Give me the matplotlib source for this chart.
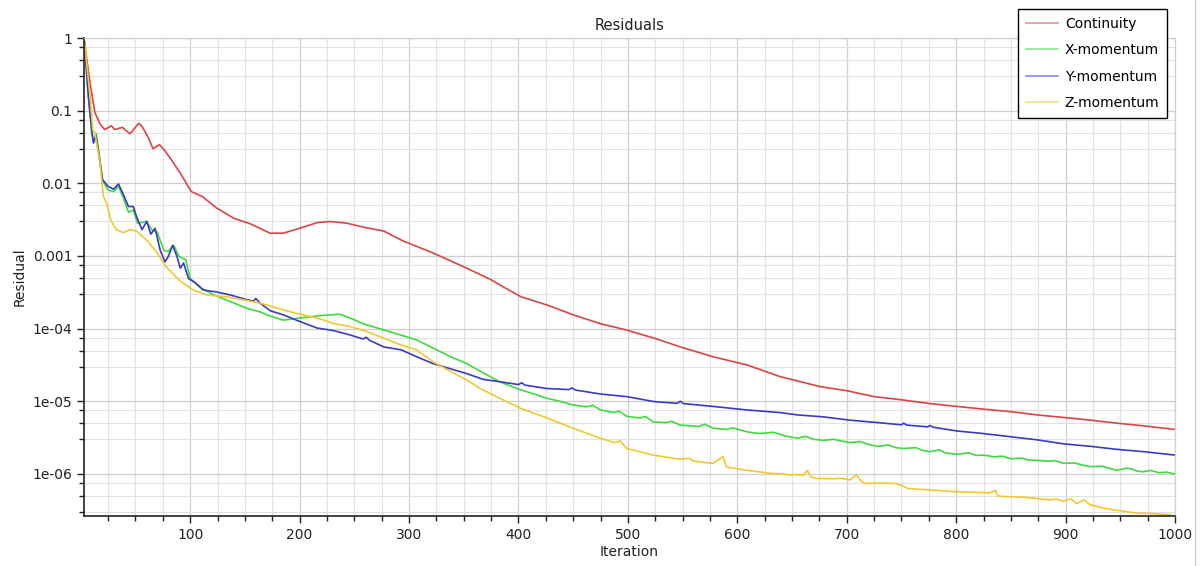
import matplotlib
matplotlib.use('Agg')
import matplotlib.pyplot as plt
from matplotlib.ticker import FixedLocator, FixedFormatter

continuity_it = [3, 6, 9, 13, 18, 22, 28, 31, 38, 45, 53, 56, 62, 66, 72, 77, 82, 91, 101, 111,
                 124, 140, 155, 164, 173, 185, 200, 216, 228, 243, 258, 277, 295, 322, 350, 374,
                 383, 402, 426, 450, 475, 499, 524, 548, 578, 609, 639, 652, 676, 700, 725, 752,
                 776, 801, 825, 850, 874, 898, 923, 947, 971, 1000]
continuity = [1.0, 0.45, 0.215, 0.094, 0.064, 0.055, 0.062, 0.055, 0.059, 0.048, 0.067, 0.061,
              0.042, 0.030, 0.034, 0.028, 0.022, 0.0138, 0.0077, 0.0066, 0.0046, 0.0033, 0.00277,
              0.0024, 0.00206, 0.00206, 0.0024, 0.00288, 0.00298, 0.00283, 0.0025, 0.0022, 0.0016,
              0.0011, 0.00071, 0.00048, 0.0004, 0.000276, 0.000212, 0.000155, 0.000117, 9.55e-5,
              7.4e-5, 5.6e-5, 4.1e-5, 3.16e-5, 2.19e-5, 1.96e-5, 1.59e-5, 1.4e-5, 1.16e-5, 1.04e-5,
              9.3e-6, 8.5e-6, 7.8e-6, 7.2e-6, 6.5e-6, 6.0e-6, 5.5e-6, 5.0e-6, 4.6e-6, 4.1e-6]

xmom_it = [3, 7, 10, 12, 14, 16, 20, 25, 30, 34.5, 39, 43.6, 48, 52, 60, 65, 70, 76, 80, 85, 90,
           96, 100, 110, 122, 137, 152, 164, 170, 185, 200, 216, 237, 246, 261, 277, 292, 307,
           322, 338, 353, 365, 383, 402, 415, 426, 438, 450, 462, 468, 475, 487, 492, 499, 511,
           516, 523, 535, 540, 548, 558, 565, 570, 578, 590, 596, 609, 620, 633, 645, 655, 662,
           670, 679, 688, 695, 703, 712, 720, 728, 738, 745, 752, 763, 770, 776, 785, 790, 801,
           812, 818, 825, 835, 842, 850, 860, 866, 874, 885, 890, 898, 908, 915, 923, 933, 940,
           947, 955, 960, 965, 971, 978, 985, 992, 1000]
xmom = [1.0, 0.158, 0.05, 0.036, 0.049, 0.03, 0.011, 0.0081, 0.0077, 0.0091, 0.0063, 0.0040,
        0.0043, 0.0028, 0.0030, 0.0023, 0.0021, 0.0012, 0.00115, 0.0014, 0.00098, 0.00089,
        0.00049, 0.00036, 0.00029, 0.000235, 0.00019, 0.00017, 0.000155, 0.000131, 0.00014,
        0.00015, 0.000158, 0.00014, 0.000113, 9.6e-5, 8.2e-5, 7.0e-5, 5.4e-5, 4.1e-5, 3.3e-5,
        2.6e-5, 1.85e-5, 1.44e-5, 1.25e-5, 1.1e-5, 1.0e-5, 8.9e-6, 8.4e-6, 8.8e-6, 7.6e-6,
        7.0e-6, 7.3e-6, 6.2e-6, 5.9e-6, 6.2e-6, 5.2e-6, 5.1e-6, 5.3e-6, 4.7e-6, 4.6e-6, 4.5e-6,
        4.85e-6, 4.26e-6, 4.1e-6, 4.3e-6, 3.8e-6, 3.6e-6, 3.75e-6, 3.3e-6, 3.1e-6, 3.3e-6,
        3.0e-6, 2.9e-6, 3.0e-6, 2.85e-6, 2.7e-6, 2.8e-6, 2.55e-6, 2.4e-6, 2.5e-6, 2.3e-6,
        2.24e-6, 2.3e-6, 2.1e-6, 2.03e-6, 2.15e-6, 1.95e-6, 1.87e-6, 1.95e-6, 1.8e-6, 1.82e-6,
        1.72e-6, 1.76e-6, 1.62e-6, 1.65e-6, 1.56e-6, 1.54e-6, 1.5e-6, 1.53e-6, 1.4e-6, 1.42e-6,
        1.33e-6, 1.26e-6, 1.28e-6, 1.2e-6, 1.12e-6, 1.2e-6, 1.18e-6, 1.1e-6, 1.07e-6, 1.12e-6,
        1.04e-6, 1.06e-6, 1.0e-6]

ymom_it = [3, 7, 10, 11.6, 14, 16, 20, 25, 30, 34.5, 39, 43.6, 48, 51, 56, 60.4, 64, 68, 72.6,
           77, 80, 84, 88, 91, 94, 98.5, 104.6, 112, 124, 137, 152, 158, 160, 164, 173, 185, 200,
           216, 231, 246, 258, 261, 264, 277, 293, 307, 322, 338, 353, 368, 383, 400, 403, 406,
           426, 446, 449, 452, 475, 499, 524, 545, 548, 551, 578, 609, 639, 655, 679, 703, 728,
           750, 752, 755, 774, 776, 779, 801, 825, 850, 874, 898, 923, 947, 971, 1000]
ymom = [1.0, 0.158, 0.055, 0.036, 0.045, 0.029, 0.0112, 0.0091, 0.0083, 0.0098, 0.0070, 0.0048,
        0.0048, 0.0035, 0.0023, 0.0030, 0.0020, 0.0024, 0.0012, 0.00083, 0.00098, 0.0014,
        0.00098, 0.00068, 0.00080, 0.00049, 0.00043, 0.00034, 0.00032, 0.00029, 0.00025,
        0.00024, 0.00026, 0.000224, 0.000177, 0.000155, 0.000126, 0.000102, 9.4e-5, 8.2e-5,
        7.2e-5, 7.6e-5, 6.9e-5, 5.6e-5, 5.1e-5, 4.1e-5, 3.3e-5, 2.8e-5, 2.4e-5, 2.0e-5, 1.86e-5,
        1.7e-5, 1.8e-5, 1.67e-5, 1.5e-5, 1.45e-5, 1.53e-5, 1.43e-5, 1.26e-5, 1.16e-5, 9.9e-6,
        9.4e-6, 1.0e-5, 9.3e-6, 8.5e-6, 7.6e-6, 7.0e-6, 6.5e-6, 6.1e-6, 5.5e-6, 5.1e-6, 4.75e-6,
        5.0e-6, 4.7e-6, 4.45e-6, 4.65e-6, 4.4e-6, 3.9e-6, 3.6e-6, 3.25e-6, 2.95e-6, 2.6e-6,
        2.4e-6, 2.18e-6, 2.03e-6, 1.82e-6]

zmom_it = [3, 8.6, 11, 13, 17.7, 20.7, 23.7, 28, 32.6, 38.7, 45, 51, 60, 69, 78, 91, 103, 115.6,
           131, 146, 164, 170, 185, 200, 216, 231, 246, 261.5, 277, 292, 307, 322, 338, 353, 365,
           383, 402, 426, 450, 475, 488, 493, 499, 523, 548, 556, 560, 578, 587, 590, 609, 620,
           630, 640, 648, 655, 660, 664, 667, 672, 685, 695, 703, 709, 713, 717, 730, 744, 750,
           756, 770, 785, 799, 815, 830, 836, 838, 842, 860, 874, 885, 892, 898, 905, 910, 917,
           922, 934, 950, 965, 980, 996]
zmom = [1.0, 0.158, 0.055, 0.049, 0.019, 0.0066, 0.0053, 0.0030, 0.0023, 0.0021, 0.0023, 0.0022,
        0.00167, 0.00115, 0.00071, 0.00045, 0.00034, 0.00029, 0.000276, 0.000254, 0.000224,
        0.000212, 0.000181, 0.000159, 0.00014, 0.000118, 0.000107, 9.1e-5, 7.4e-5, 6.0e-5,
        5.1e-5, 3.5e-5, 2.57e-5, 1.96e-5, 1.5e-5, 1.1e-5, 8.0e-6, 5.9e-6, 4.26e-6, 3.1e-6,
        2.7e-6, 2.85e-6, 2.24e-6, 1.82e-6, 1.59e-6, 1.65e-6, 1.5e-6, 1.4e-6, 1.74e-6, 1.25e-6,
        1.12e-6, 1.07e-6, 1.02e-6, 1.0e-6, 9.7e-7, 9.8e-7, 9.5e-7, 1.12e-6, 9.2e-7, 8.7e-7,
        8.6e-7, 8.7e-7, 8.3e-7, 9.7e-7, 8.0e-7, 7.4e-7, 7.5e-7, 7.4e-7, 7.0e-7, 6.3e-7, 6.1e-7,
        5.9e-7, 5.7e-7, 5.6e-7, 5.5e-7, 5.9e-7, 5.0e-7, 4.9e-7, 4.8e-7, 4.6e-7, 4.4e-7, 4.5e-7,
        4.2e-7, 4.6e-7, 3.9e-7, 4.4e-7, 3.8e-7, 3.4e-7, 3.1e-7, 2.9e-7, 2.85e-7, 2.75e-7]

series_labels = ['Continuity', 'X-momentum', 'Y-momentum', 'Z-momentum']
series_colors = ['#dd4444', '#3ddb3d', '#3a3ac8', '#f0c830']

ytick_vals = [1, 0.1, 0.01, 0.001, 1e-4, 1e-5, 1e-6]
ytick_labels = ['1', '0.1', '0.01', '0.001', '1e-04', '1e-05', '1e-06']
xtick_vals = [100, 200, 300, 400, 500, 600, 700, 800, 900, 1000]

fig = plt.figure(figsize=(12.02, 5.66), dpi=100)
ax = fig.add_axes([84 / 1202, 50 / 566, 1091 / 1202, 478 / 566])

data = [(continuity_it, continuity), (xmom_it, xmom), (ymom_it, ymom), (zmom_it, zmom)]
for (its, vals), lab, col in zip(data, series_labels, series_colors):
    ax.plot(its, vals, color=col, lw=1.2, label=lab)

ax.set_yscale('log')
ax.set_xlim(3, 1000)
ax.set_ylim(2.64e-7, 1)

# y ticks: decades plus odd STAR-style minors
ax.yaxis.set_major_locator(FixedLocator(ytick_vals))
ax.yaxis.set_major_formatter(FixedFormatter(ytick_labels))
minors = [d * m for d in [1, 0.1, 0.01, 0.001, 1e-4, 1e-5, 1e-6, 1e-7] for m in (0.75, 0.5, 0.3)]
ax.yaxis.set_minor_locator(FixedLocator(minors))
ax.yaxis.set_minor_formatter(FixedFormatter([]))

ax.xaxis.set_major_locator(FixedLocator(xtick_vals))
ax.xaxis.set_minor_locator(FixedLocator(list(range(25, 1001, 25))))

ax.grid(True, which='major', color='#cfcfcf', lw=0.9)
ax.grid(True, which='minor', color='#e2e2e2', lw=0.8)
ax.set_axisbelow(True)

ax.tick_params(which='major', direction='out', length=5, width=1, colors='#222222', labelsize=10)
ax.tick_params(which='minor', direction='out', length=3.5, width=1, colors='#222222')
for side in ['left', 'bottom']:
    ax.spines[side].set_color('#222222')
    ax.spines[side].set_linewidth(1.2)
for side in ['top', 'right']:
    ax.spines[side].set_color('#d0d0d0')
    ax.spines[side].set_linewidth(0.9)

ax.set_title('Residuals', fontsize=10.5, color='#222222', pad=6)
ax.set_xlabel('Iteration', fontsize=10, color='#222222', labelpad=2)
ax.set_ylabel('Residual', fontsize=10, color='#222222', labelpad=4)

leg = ax.legend(loc='upper right', bbox_to_anchor=(0.9927, 1.0607), borderaxespad=0,
                fancybox=False, edgecolor='black', framealpha=1, fontsize=10,
                handlelength=2.3, labelspacing=0.9, borderpad=0.55, handletextpad=0.5)
leg.get_frame().set_linewidth(1.0)
for line in leg.get_lines():
    line.set_alpha(0.6)

# thin border on the right edge of the screenshot
fig.add_artist(plt.Line2D([1195 / 1202, 1195 / 1202], [0, 1], color='#d0d0d0', lw=1))

fig.savefig('out.png', dpi=100)
